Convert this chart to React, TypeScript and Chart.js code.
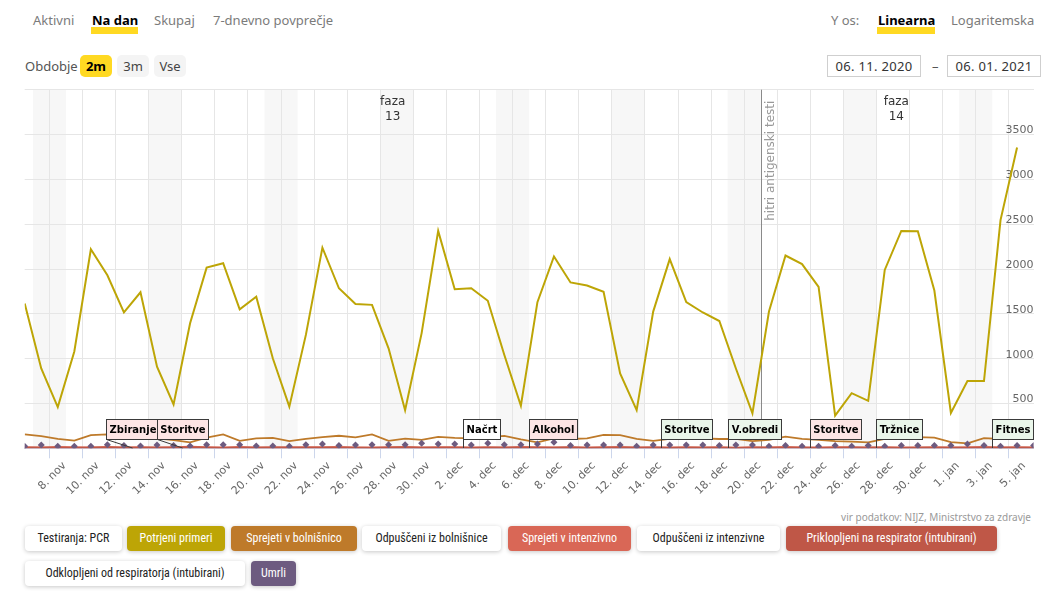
import React, { useEffect, useRef } from 'react';
import { Chart, registerables } from 'chart.js';

Chart.register(...registerables);

// ---------------- DATA ----------------
const START_DATE = new Date(2020, 10, 6); // 06. 11. 2020 (index 0, noon)

const X_TICK_LABELS = [
  '8. nov', '10. nov', '12. nov', '14. nov', '16. nov', '18. nov', '20. nov', '22. nov', '24. nov', '26. nov',
  '28. nov', '30. nov', '2. dec', '4. dec', '6. dec', '8. dec', '10. dec', '12. dec', '14. dec', '16. dec',
  '18. dec', '20. dec', '22. dec', '24. dec', '26. dec', '28. dec', '30. dec', '1. jan', '3. jan', '5. jan',
];

// Potrjeni primeri (confirmed cases) per day
const confirmedCases = [
  1615, 890, 460, 1080, 2220, 1930, 1515, 1740, 910, 490,
  1395, 2015, 2065, 1550, 1690, 1005, 465, 1265, 2238, 1785,
  1610, 1600, 1115, 425, 1285, 2425, 1775, 1785, 1645, 1040,
  475, 1630, 2140, 1850, 1815, 1745, 835, 425, 1525, 2110,
  1630, 1515, 1420, 890, 390, 1525, 2150, 2055, 1800, 365,
  615, 530, 1990, 2425, 2420, 1760, 395, 750, 750, 2545, 3355,
];

// Sprejeti v bolnišnico (hospital admissions)
const hospitalAdmitted = [
  155, 135, 105, 85, 148, 155, 145, 135, 112, 92,
  67, 118, 155, 83, 111, 116, 80, 104, 125, 140,
  123, 155, 83, 108, 93, 127, 117, 112, 125, 138,
  100, 67, 111, 104, 110, 150, 148, 104, 83, 104,
  125, 111, 104, 104, 81, 93, 130, 104, 93, 81,
  75, 67, 104, 118, 125, 118, 70, 56, 113, 104, 104,
];

// Sprejeti v intenzivno (ICU admissions)
const icuAdmitted = [
  12, 9, 14, 11, 8, 15, 10, 13, 9, 12,
  16, 11, 8, 14, 10, 12, 9, 13, 11, 15,
  10, 8, 12, 14, 9, 11, 13, 10, 12, 8,
  14, 11, 9, 13, 10, 12, 15, 8, 11, 9,
  13, 10, 12, 7, 11, 9, 14, 10, 8, 12,
  11, 9, 13, 10, 8, 12, 9, 11, 14, 10, 12, 9,
];

// Priklopljeni na respirator (intubirani)
const ventilatorOn = [
  6, 5, 7, 4, 6, 8, 5, 6, 7, 5,
  8, 6, 4, 7, 5, 6, 8, 5, 6, 7,
  5, 4, 6, 8, 5, 7, 6, 4, 6, 5,
  7, 6, 5, 8, 4, 6, 7, 5, 6, 4,
  7, 5, 6, 4, 5, 6, 7, 5, 4, 6,
  5, 6, 7, 4, 5, 6, 5, 4, 7, 5, 6, 5,
];

// Umrli (deceased)
const deceased = [
  22, 37, 22, 22, 22, 40, 30, 25, 37, 30,
  27, 40, 40, 40, 27, 27, 22, 40, 48, 30,
  37, 40, 40, 40, 55, 48, 48, 37, 55, 40,
  40, 48, 67, 30, 37, 37, 37, 22, 37, 37,
  37, 37, 30, 37, 37, 22, 30, 22, 22, 30,
  22, 30, 22, 30, 30, 30, 30, 48, 30, 22, 30, 30,
];

// Measures (ukrepi) – date they took effect
const MEASURE_LABELS = ['Zbiranje', 'Storitve', 'Načrt', 'Alkohol', 'Storitve', 'V.obredi', 'Storitve', 'Tržnice', 'Fitnes'];
const MEASURE_DATES = ['2020-11-13', '2020-11-16', '2020-12-03', '2020-12-07', '2020-12-15', '2020-12-19', '2020-12-24', '2020-12-28', '2021-01-04'];
const MEASURE_KINDS = ['tighten', 'tighten', 'neutral', 'tighten', 'relax', 'relax', 'tighten', 'relax', 'relax'];
const MEASURE_CENTERED = [true, true, false, false, false, false, false, false, false];

const PHASE_LABELS = [['faza', '13'], ['faza', '14']];
const PHASE_AT = [22.25, 52.7]; // day index where label sits

const EVENT_LABEL = 'hitri antigenski testi';
const EVENT_DATE = '2020-12-21';

const LEGEND_ITEMS = [
  'Testiranja: PCR', 'Potrjeni primeri', 'Sprejeti v bolnišnico', 'Odpuščeni iz bolnišnice',
  'Sprejeti v intenzivno', 'Odpuščeni iz intenzivne', 'Priklopljeni na respirator (intubirani)',
  'Odklopljeni od respiratorja (intubirani)', 'Umrli',
];
const LEGEND_COLORS = [null, '#bda506', '#be7a2a', null, '#d96756', null, '#bf5747', null, '#6d5b80'];

// ---------------- helpers ----------------
const DAY = 86400000;
function dateToIndex(s: string): number {
  const [y, m, d] = s.split('-').map(Number);
  const t = new Date(y, m - 1, d).getTime();
  return Math.round((t - START_DATE.getTime()) / DAY) - 0.5; // midnight of that date
}

const FILLS: Record<string, string> = { tighten: '#fde5e5', relax: '#eaf6ea', neutral: '#ffffff' };
const CHART_FONT = '"DejaVu Sans", Verdana, sans-serif';

const weekendPlugin = {
  id: 'weekends',
  beforeDraw(chart: any) {
    const { ctx, chartArea, scales } = chart;
    const x = scales.x;
    ctx.save();
    ctx.beginPath();
    ctx.rect(chartArea.left, chartArea.top, chartArea.right - chartArea.left, chartArea.bottom - chartArea.top);
    ctx.clip();
    ctx.fillStyle = '#f7f7f7';
    for (let i = 0; i < 62; i++) {
      const d = new Date(START_DATE.getTime() + i * DAY + DAY / 2);
      if (d.getDay() === 6) {
        const x1 = x.getPixelForValue(i - 0.5);
        const x2 = x.getPixelForValue(i + 1.5);
        ctx.fillRect(x1, chartArea.top, x2 - x1, chartArea.bottom - chartArea.top);
      }
    }
    ctx.restore();
  },
};

const eventsPlugin = {
  id: 'events',
  beforeDatasetsDraw(chart: any) {
    const { ctx, chartArea, scales } = chart;
    const x = scales.x;
    // antigen test line
    const ex = Math.round(x.getPixelForValue(dateToIndex(EVENT_DATE))) + 0.5;
    ctx.save();
    ctx.strokeStyle = '#8a8a8a';
    ctx.lineWidth = 1;
    ctx.beginPath();
    ctx.moveTo(ex, chartArea.top);
    ctx.lineTo(ex, chartArea.bottom);
    ctx.stroke();
    ctx.translate(ex + 3, chartArea.top + 11);
    ctx.rotate(-Math.PI / 2);
    ctx.font = '12px ' + CHART_FONT;
    ctx.fillStyle = '#999999';
    ctx.textAlign = 'right';
    ctx.textBaseline = 'top';
    ctx.fillText(EVENT_LABEL, 0, 0);
    ctx.restore();
    // phase labels
    ctx.save();
    ctx.font = '12px ' + CHART_FONT;
    ctx.fillStyle = '#333333';
    ctx.textAlign = 'center';
    ctx.textBaseline = 'middle';
    PHASE_LABELS.forEach((lines, i) => {
      const px = x.getPixelForValue(PHASE_AT[i]);
      lines.forEach((ln, j) => ctx.fillText(ln, px, chartArea.top + 12 + j * 15));
    });
    ctx.restore();
  },
  afterDatasetsDraw(chart: any) {
    const { ctx, scales } = chart;
    const x = scales.x;
    const y = scales.y;
    const base = Math.round(y.getPixelForValue(0));
    ctx.save();
    ctx.font = 'bold 10px ' + CHART_FONT;
    ctx.lineWidth = 1;
    MEASURE_LABELS.forEach((label, i) => {
      const ax = Math.round(x.getPixelForValue(dateToIndex(MEASURE_DATES[i])));
      const w = Math.round(ctx.measureText(label).width) + 6;
      const h = 20;
      const bottom = base - 9;
      const top = bottom - h;
      const left = MEASURE_CENTERED[i] ? Math.round(ax - w / 2) : ax;
      ctx.fillStyle = FILLS[MEASURE_KINDS[i]];
      ctx.fillRect(left, top, w, h);
      ctx.strokeStyle = '#3a3a3a';
      ctx.strokeRect(left + 0.5, top + 0.5, w, h);
      ctx.beginPath();
      ctx.moveTo(left + 0.5, bottom + 0.5);
      ctx.lineTo(ax + 0.5, base);
      ctx.stroke();
      ctx.fillStyle = '#000000';
      ctx.textAlign = 'center';
      ctx.textBaseline = 'middle';
      ctx.fillText(label, left + w / 2 + 0.5, top + h / 2 + 1);
    });
    ctx.restore();
  },
};

function ChartCanvas() {
  const ref = useRef<HTMLCanvasElement | null>(null);
  useEffect(() => {
    if (!ref.current) return;
    const pts = (arr: number[]) => arr.map((v, i) => ({ x: i, y: v }));
    const chart = new Chart(ref.current, {
      type: 'line',
      data: {
        datasets: [
          {
            label: 'Umrli', data: pts(deceased), showLine: false, pointStyle: 'rectRot', pointRadius: 3.5,
            backgroundColor: '#6d5b80', borderColor: '#6d5b80', borderWidth: 0,
          },
          {
            label: 'Priklopljeni na respirator (intubirani)', data: pts(ventilatorOn), borderColor: '#bf5747',
            borderWidth: 2, pointRadius: 0,
          },
          {
            label: 'Sprejeti v intenzivno', data: pts(icuAdmitted), borderColor: '#d96756', borderWidth: 2, pointRadius: 0,
          },
          {
            label: 'Sprejeti v bolnišnico', data: pts(hospitalAdmitted), borderColor: '#be7a2a', borderWidth: 1.8, pointRadius: 0,
          },
          {
            label: 'Potrjeni primeri', data: pts(confirmedCases), borderColor: '#bda506', borderWidth: 2, pointRadius: 0,
          },
        ],
      } as any,
      options: {
        animation: false,
        responsive: false,
        devicePixelRatio: 1,
        events: [],
        layout: { padding: { left: 24.7, right: 17.4, top: 9.7, bottom: 0 } },
        plugins: { legend: { display: false }, tooltip: { enabled: false } },
        elements: { line: { tension: 0 } },
        scales: {
          x: {
            type: 'linear',
            min: 0,
            max: 61,
            afterBuildTicks: (scale: any) => {
              scale.ticks = X_TICK_LABELS.map((_, i) => ({ value: 1.5 + 2 * i }));
            },
            afterFit: (scale: any) => {
              scale.height = 61.7;
              scale.paddingLeft = 0;
              scale.paddingRight = 0;
            },
            grid: { color: '#e6e6e6', tickColor: '#ccd6eb', tickLength: 10, drawTicks: true },
            border: { color: '#ccd6eb', width: 1 },
            ticks: {
              autoSkip: false,
              maxRotation: 45,
              minRotation: 45,
              padding: 1,
              labelOffset: 15,
              color: '#666666',
              font: { family: CHART_FONT, size: 11 },
              callback: (_v: any, i: number) => X_TICK_LABELS[i],
            },
          },
          y: {
            type: 'linear',
            position: 'right',
            min: 0,
            max: 4000,
            afterFit: (scale: any) => { scale.width = 0; },
            grid: { color: '#e6e6e6', drawTicks: false },
            border: { display: false },
            ticks: {
              stepSize: 500,
              mirror: true,
              padding: 0,
              labelOffset: -4,
              color: '#666666',
              font: { family: CHART_FONT, size: 11 },
              callback: (v: any) => (v === 0 || v === 4000 ? '' : String(v)),
            },
          },
        },
      } as any,
      plugins: [weekendPlugin, eventsPlugin],
    });
    return () => chart.destroy();
  }, []);
  return <canvas ref={ref} width={1051} height={430} style={{ display: 'block', width: 1051, height: 430 }} />;
}

const tabStyle: React.CSSProperties = { position: 'absolute', top: 11, fontSize: 13, color: '#7b7b7b', lineHeight: '18px', whiteSpace: 'nowrap' };
const pillStyle: React.CSSProperties = {
  position: 'absolute', top: 55, height: 22, width: 32, borderRadius: 5, background: '#f4f4f4', fontSize: 13,
  lineHeight: '22px', textAlign: 'center', color: '#444',
};
const dateBox: React.CSSProperties = {
  position: 'absolute', top: 55, height: 22, width: 94, border: '1px solid #cfcfcf', boxSizing: 'border-box',
  fontSize: 13, lineHeight: '20px', textAlign: 'center', color: '#333', letterSpacing: 0.3,
};

const LEGEND_POS = [
  [25, 526, 97], [127, 526, 98], [231, 526, 126], [362, 526, 139], [508, 526, 123], [637, 526, 143], [786, 526, 211],
  [25, 561, 220], [251, 561, 45],
];

export default function App() {
  return (
    <div style={{ position: 'absolute', left: 0, top: 0, width: 1051, height: 613, background: '#fff', fontFamily: '"Noto Sans", sans-serif', overflow: 'hidden' }}>
      {/* top tabs */}
      <div style={{ position: 'absolute', left: 91, top: 27, width: 47, height: 7, background: '#ffd922' }} />
      <div style={{ position: 'absolute', left: 877, top: 27, width: 58, height: 7, background: '#ffd922' }} />
      <span style={{ ...tabStyle, left: 33 }}>Aktivni</span>
      <span style={{ ...tabStyle, left: 92, color: '#000', fontWeight: 700 }}>Na dan</span>
      <span style={{ ...tabStyle, left: 154 }}>Skupaj</span>
      <span style={{ ...tabStyle, left: 213 }}>7-dnevno povprečje</span>
      <span style={{ ...tabStyle, left: 831 }}>Y os:</span>
      <span style={{ ...tabStyle, left: 878, color: '#000', fontWeight: 700 }}>Linearna</span>
      <span style={{ ...tabStyle, left: 951 }}>Logaritemska</span>

      {/* period */}
      <span style={{ position: 'absolute', left: 25, top: 57, fontSize: 13, color: '#555', lineHeight: '18px' }}>Obdobje</span>
      <div style={{ ...pillStyle, left: 80, background: '#ffd922', color: '#000', fontWeight: 700 }}>2m</div>
      <div style={{ ...pillStyle, left: 117 }}>3m</div>
      <div style={{ ...pillStyle, left: 154 }}>Vse</div>

      <div style={{ ...dateBox, left: 827 }}>06. 11. 2020</div>
      <span style={{ position: 'absolute', left: 932, top: 57, fontSize: 13, color: '#555', lineHeight: '18px' }}>–</span>
      <div style={{ ...dateBox, left: 947 }}>06. 01. 2021</div>

      {/* chart */}
      <div style={{ position: 'absolute', left: 0, top: 80, width: 1051, height: 430 }}>
        <ChartCanvas />
      </div>

      <span style={{ position: 'absolute', right: 20, top: 510, fontSize: 10, color: '#999', lineHeight: '14px' }}>vir podatkov: NIJZ, Ministrstvo za zdravje</span>

      {/* legend buttons */}
      {LEGEND_ITEMS.map((label, i) => {
        const [l, t, w] = LEGEND_POS[i];
        const c = LEGEND_COLORS[i];
        return (
          <div key={i} style={{
            position: 'absolute', left: l, top: t, width: w, height: 25, borderRadius: 4,
            background: c || '#ffffff', color: c ? '#ffffff' : '#222', boxShadow: '0 1px 4px rgba(0,0,0,0.22)',
            fontSize: 12, lineHeight: '25px', textAlign: 'center', whiteSpace: 'nowrap', overflow: 'hidden',
            fontFamily: '"Liberation Sans Narrow", "Roboto Condensed", "Roboto", sans-serif',
          }}>{label}</div>
        );
      })}
    </div>
  );
}
